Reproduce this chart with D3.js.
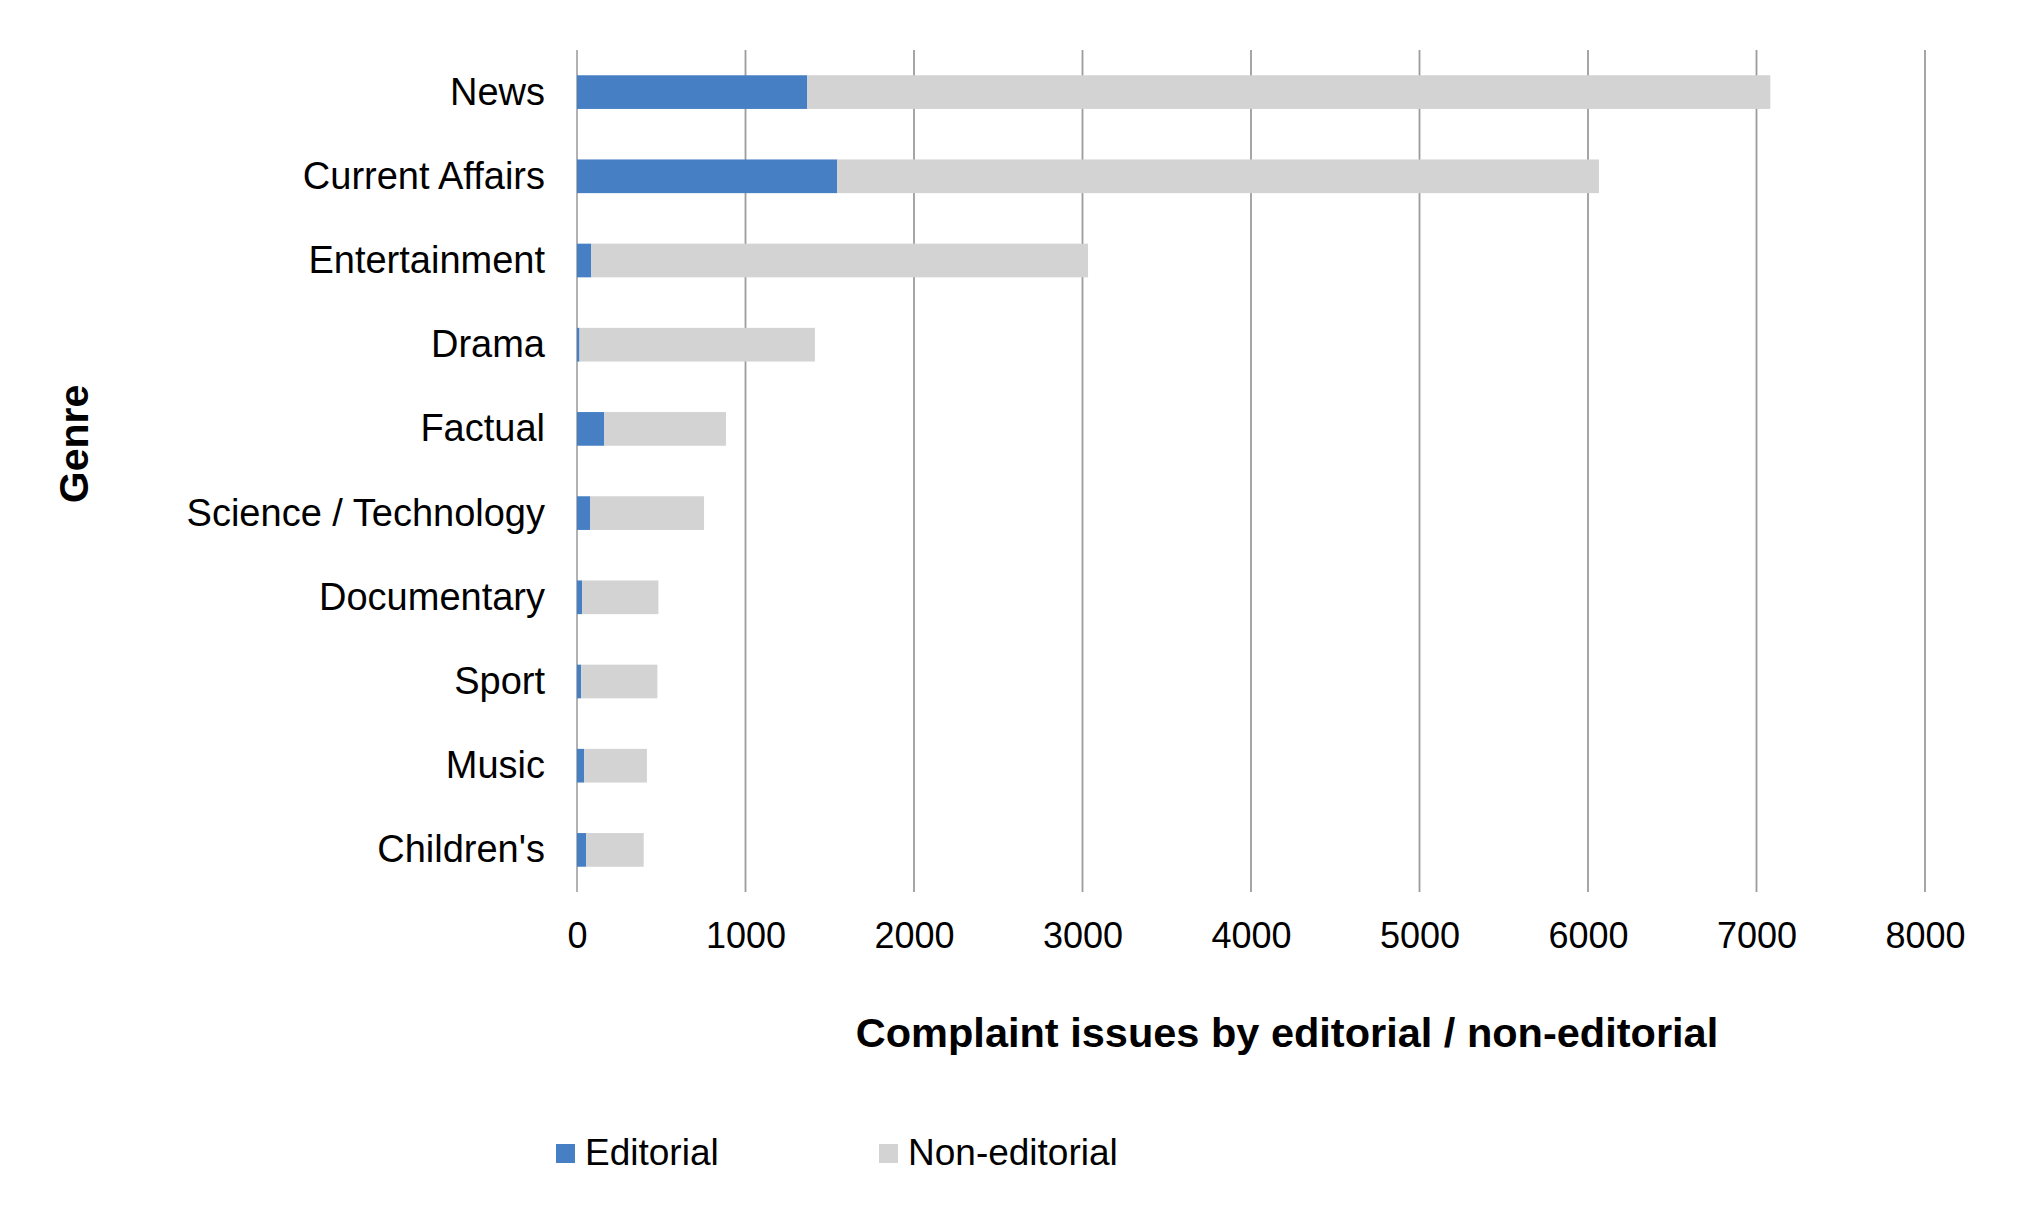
<!DOCTYPE html>
<html>
<head>
<meta charset="utf-8">
<script src="https://cdn.jsdelivr.net/npm/d3@7/dist/d3.min.js"></script>
<style>
  body { margin: 0; background: #fff; }
  svg { display: block; font-family: "Liberation Sans", Arial, sans-serif; }
</style>
</head>
<body>
<svg></svg>
<script>
let genres = ["News", "Current Affairs", "Entertainment", "Drama", "Factual",
  "Science / Technology", "Documentary", "Sport", "Music", "Children's"]
let editorial = [1367, 1545, 85, 15, 162, 79, 31, 25, 43, 55]
let nonEditorial = [5715, 4520, 2948, 1397, 722, 675, 452, 452, 372, 341]
let xTicks = [0, 1000, 2000, 3000, 4000, 5000, 6000, 7000, 8000]
let seriesNames = ["Editorial", "Non-editorial"]
let seriesColors = ["#467fc3", "#d3d3d3"]

let width = 2022
let height = 1216
let plotLeft = 577, plotRight = 1925, plotTop = 50, plotBottom = 892

let svg = d3.select("svg").attr("width", width).attr("height", height)

let rows = genres.map((g, i) => ({ genre: g, Editorial: editorial[i], "Non-editorial": nonEditorial[i] }))
let stacked = d3.stack().keys(seriesNames)(rows)

let xScale = d3.scaleLinear().domain([0, 8000]).range([plotLeft, plotRight])
let yScale = d3.scaleBand().domain(genres).range([plotTop, plotBottom])
  .paddingInner(0.6).paddingOuter(0.3)

// gridlines
svg.append("g")
  .selectAll("line")
  .data(xTicks)
  .enter()
  .append("line")
  .attr("x1", d => xScale(d)).attr("x2", d => xScale(d))
  .attr("y1", plotTop).attr("y2", plotBottom)
  .attr("stroke", d => d === 0 ? "#aaaaaa" : "#9c9c9c")
  .attr("stroke-width", 1.8)

// bars
svg.append("g")
  .selectAll("g")
  .data(stacked)
  .enter()
  .append("g")
  .attr("fill", (d, i) => seriesColors[i])
  .selectAll("rect")
  .data(d => d)
  .enter()
  .append("rect")
  .attr("x", d => xScale(d[0]))
  .attr("width", d => xScale(d[1]) - xScale(d[0]))
  .attr("y", d => yScale(d.data.genre))
  .attr("height", yScale.bandwidth())

// x axis (labels only)
let xAxis = d3.axisBottom(xScale).tickValues(xTicks).tickFormat(d3.format("d"))
  .tickSize(0).tickPadding(0)
let gx = svg.append("g")
  .attr("transform", "translate(0," + 948 + ")")
  .call(xAxis)
gx.select(".domain").remove()
gx.selectAll("text")
  .attr("dy", 0).attr("y", 0)
  .style("font-size", "36px").style("font-family", "\"Liberation Sans\", Arial, sans-serif")
  .attr("fill", "#000")

// y axis (labels only)
let yAxis = d3.axisLeft(yScale).tickSize(0).tickPadding(0)
let gy = svg.append("g")
  .attr("transform", "translate(545,0)")
  .call(yAxis)
gy.select(".domain").remove()
gy.selectAll("text")
  .attr("x", 0).attr("dy", "0.33em")
  .style("font-size", "38px").style("font-family", "\"Liberation Sans\", Arial, sans-serif")
  .attr("fill", "#000")

// axis titles
svg.append("text")
  .text("Complaint issues by editorial / non-editorial")
  .attr("x", 1287).attr("y", 1047)
  .attr("text-anchor", "middle")
  .style("font-size", "41.5px").style("font-weight", "bold")

svg.append("text")
  .text("Genre")
  .attr("transform", "translate(88,444) rotate(-90)")
  .attr("text-anchor", "middle")
  .style("font-size", "41px").style("font-weight", "bold")

// legend
let legendX = [556, 879]
let legend = svg.append("g")
  .selectAll("g")
  .data(seriesNames)
  .enter()
  .append("g")
  .attr("transform", (d, i) => "translate(" + legendX[i] + ",1144)")
legend.append("rect")
  .attr("width", 19).attr("height", 19)
  .attr("fill", (d, i) => seriesColors[i])
legend.append("text")
  .text(d => d)
  .attr("x", 29).attr("y", 21)
  .style("font-size", "37px")
</script>
</body>
</html>
